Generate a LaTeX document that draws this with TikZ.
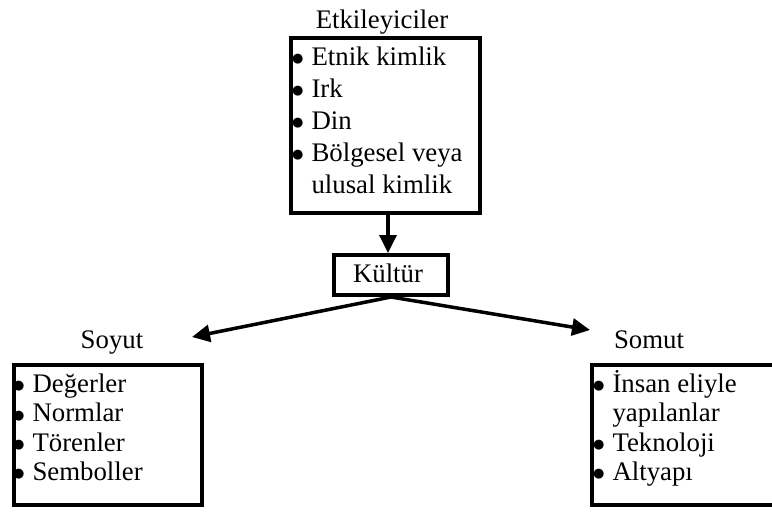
\documentclass[tikz,border=0pt]{standalone}
\usepackage{fontspec}
\setmainfont{Liberation Serif}
\newfontfamily\dejavu{DejaVu Sans}
\usetikzlibrary{arrows.meta}
\newcommand\bul{\raisebox{2.6pt}{\dejavu\fontsize{13}{13}\selectfont ●}\hspace{8pt}}
\newcommand\firstrule{\rule{0pt}{24pt}}
\tikzset{
  box/.style={draw, line width=4pt, inner sep=0pt, minimum width=#1},
  lbl/.style={font=\fontsize{26.8}{30}\selectfont, inner sep=0pt, anchor=base},
  list/.style={font=\fontsize{26.8}{#1}\selectfont, inner sep=0pt, anchor=north west, align=left},
  arr/.style={line width=3.5pt, -{Triangle[width=17pt,length=18pt]}}
}
\begin{document}
\begin{tikzpicture}[x=1pt, y=-1pt]
\useasboundingbox (0,0) rectangle (772,512);
\clip (0,0) rectangle (772,512);
% boxes
\node[box=189pt, minimum height=175pt] (top) at (385.5,125.5) {};
\node[box=114pt, minimum height=40pt] (kul) at (391,275) {};
\node[box=188pt, minimum height=140pt] (soy) at (108,435) {};
\node[box=220pt, minimum height=140pt] (som) at (701.5,435) {};
% labels
\node[lbl] (etk) at (382,28) {Etkileyiciler};
\node[lbl] (kt) at (388,282) {Kültür};
\node[lbl] (soyl) at (112,348) {Soyut};
\node[lbl] (soml) at (649,348) {Somut};
% lists
\node[list=32pt] (topt) at (292,41) {\firstrule\bul Etnik kimlik\\ \bul Irk\\ \bul Din\\ \bul Bölgesel veya\\ \hphantom{\bul}ulusal kimlik};
\node[list=29.4pt] (soyt) at (13,368) {\firstrule\bul Değerler\\ \bul Normlar\\ \bul Törenler\\ \bul Semboller};
\node[list=29.4pt] (somt) at (593,368) {\firstrule\bul İnsan eliyle\\ \hphantom{\bul}yapılanlar\\ \bul Teknoloji\\ \bul Altyapı};
% connectors
\coordinate (tl) at (192,337);
\coordinate (tr) at (590,330);
\draw[arr] ([xshift=2.5pt]top.south) -- ([xshift=-3pt]kul.north);
\draw[arr] (kul.south) -- (tl);
\draw[arr] (kul.south) -- (tr);
\end{tikzpicture}
\end{document}
